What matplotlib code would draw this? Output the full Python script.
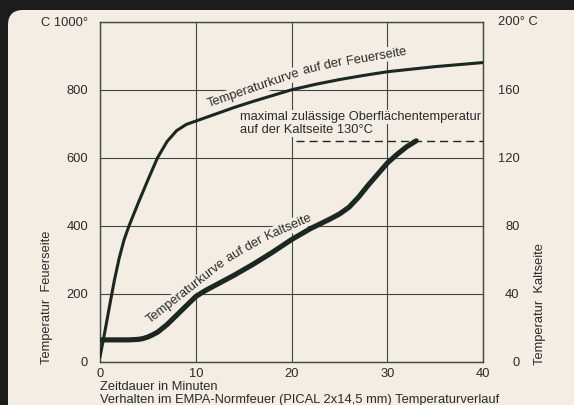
import numpy as np
import matplotlib
matplotlib.use("Agg")
import matplotlib.pyplot as plt
from matplotlib.patches import FancyBboxPatch
from matplotlib.transforms import IdentityTransform

# --- data ---
# fire side, left axis (°C)
fire_t = [0, 0.5, 1, 1.5, 2, 2.5, 3, 4, 5, 6, 7, 8, 9, 10, 12, 14, 16, 18, 20, 22.5, 25, 27.5,
          30, 35, 40]
fire_temp = [15, 88, 165, 240, 305, 358, 398, 468, 535, 600, 648, 680, 698, 708, 728, 748, 766,
             783, 800, 816, 830, 842, 853, 868, 880]

# cold side, right axis (°C)
cold_t = [0, 1, 2, 3, 4, 4.5, 5, 5.5, 6, 7, 8, 9, 10, 11, 12, 14, 16, 18, 20, 22, 24, 25, 26,
          27, 28, 29, 30, 31, 32, 33]
cold_temp = [13, 13, 13, 13, 13.3, 13.8, 14.7, 16, 17.5, 22, 27.5, 33, 38.5, 42, 45, 51, 57.5,
             64.5, 72, 78.5, 84, 87, 91, 97, 104, 110.5, 117, 122, 126.5, 130]

max_cold = 130          # zulässige Oberflächentemperatur
max_cold_from = 20.5    # dashed line starts here (min)

x_ticks = [0, 10, 20, 30, 40]
left_ticks = [0, 200, 400, 600, 800, 1000]
left_labels = ["0", "200", "400", "600", "800", "C 1000°"]
right_ticks = [0, 40, 80, 120, 160]
right_labels = ["0", "40", "80", "120", "160"]

PANEL = "#f3ede4"
FRAME = "#1c1c1c"
INK = "#1d2721"
GRID = "#3f4742"
TXT = "#2a2a2a"
FS = 9.3


def curved_label(ax, x, y, pieces, **kw):
    """Lay text pieces end to end, each one turned by its own angle."""
    fig = ax.figure
    renderer = fig.canvas.get_renderer()
    px, py = ax.transData.transform((x, y))
    space = FS * 0.278 * fig.dpi / 72
    for txt, ang in pieces:
        dx, dy = ax.transData.inverted().transform((px, py))
        t = ax.text(dx, dy, txt, ha="left", va="baseline", rotation_mode="anchor", **kw)
        w = t.get_window_extent(renderer).width
        t.set_rotation(ang)
        a = np.radians(ang)
        px += (w + space) * np.cos(a)
        py += (w + space) * np.sin(a)


plt.rcParams["font.family"] = ["Liberation Sans", "DejaVu Sans"]

fig = plt.figure(figsize=(5.74, 4.05), dpi=100)
fig.patch.set_facecolor(FRAME)
panel = FancyBboxPatch((8, -20), 580, 395 + 20, boxstyle="round,pad=0,rounding_size=15",
                       transform=IdentityTransform(), facecolor=PANEL, edgecolor="none",
                       zorder=-10)
fig.patches.append(panel)

ax = fig.add_axes([100 / 574, 43 / 405, 383.3 / 574, 340.3 / 405])
ax.set_facecolor("none")
ax.set_xlim(0, 40)
ax.set_ylim(0, 1000)
ax.set_xticks(x_ticks)
ax.set_yticks(left_ticks)
ax.set_yticklabels(left_labels)
ax.tick_params(length=0, labelsize=FS, colors=TXT)
ax.tick_params(axis="y", pad=8.6)
ax.tick_params(axis="x", pad=4.3)
ax.grid(True, color=GRID, lw=0.8)
ax.set_axisbelow(True)
for s in ax.spines.values():
    s.set_color(GRID)
    s.set_linewidth(1.0)

ax.plot(fire_t, fire_temp, color=INK, lw=2.2, solid_capstyle="round",
        solid_joinstyle="round", zorder=4)

ax2 = ax.twinx()
ax2.set_ylim(0, 200)
ax2.set_yticks(right_ticks)
ax2.set_yticklabels(right_labels)
ax2.tick_params(length=0, labelsize=FS, colors=TXT, pad=26)
for lab in ax2.get_yticklabels():
    lab.set_horizontalalignment("right")
for s in ax2.spines.values():
    s.set_visible(False)

ax2.plot(cold_t, cold_temp, color=INK, lw=3.7, solid_capstyle="round",
         solid_joinstyle="round", zorder=4)
ax2.plot([max_cold_from, 40], [max_cold, max_cold], color=INK, lw=1.0,
         dashes=(5.8, 3.6), zorder=3)

ax2.text(1.038, 1.0, "200° C", transform=ax2.transAxes, ha="left", va="center",
         fontsize=FS, color=TXT)

# axis titles
ax.text(-0.138, 0.19, "Temperatur  Feuerseite", transform=ax.transAxes, rotation=90,
        ha="center", va="center", fontsize=FS, color=TXT)
ax.text(1.149, 0.17, "Temperatur  Kaltseite", transform=ax.transAxes, rotation=90,
        ha="center", va="center", fontsize=FS, color=TXT)
ax.text(0, -28 / 340.3, "Zeitdauer in Minuten", transform=ax.transAxes,
        ha="left", va="baseline", fontsize=FS, color=TXT, clip_on=False)
ax.text(0, -41.5 / 340.3, "Verhalten im EMPA-Normfeuer (PICAL 2x14,5 mm) Temperaturverlauf",
        transform=ax.transAxes, ha="left", va="baseline", fontsize=FS, color=TXT, clip_on=False)

# curve labels, split into pieces that follow the curves
bb = dict(facecolor=PANEL, edgecolor="none", pad=0.8)
style = dict(fontsize=FS, color=TXT, bbox=bb, zorder=2)
curved_label(ax, 11.37, 749, [("Temperaturkurve", 19), ("auf der", 13), ("Feuerseite", 10)], **style)
curved_label(ax, 5.22, 112, [("Temperaturkurve", 38), ("auf der", 30), ("Kaltseite", 24)], **style)

ax.text(14.61, 711, "maximal zulässige Oberflächentemperatur", ha="left", va="baseline", **style)
ax.text(14.61, 672, "auf der Kaltseite 130°C", ha="left", va="baseline", **style)

fig.savefig("out.png", dpi=100, facecolor=fig.get_facecolor())
